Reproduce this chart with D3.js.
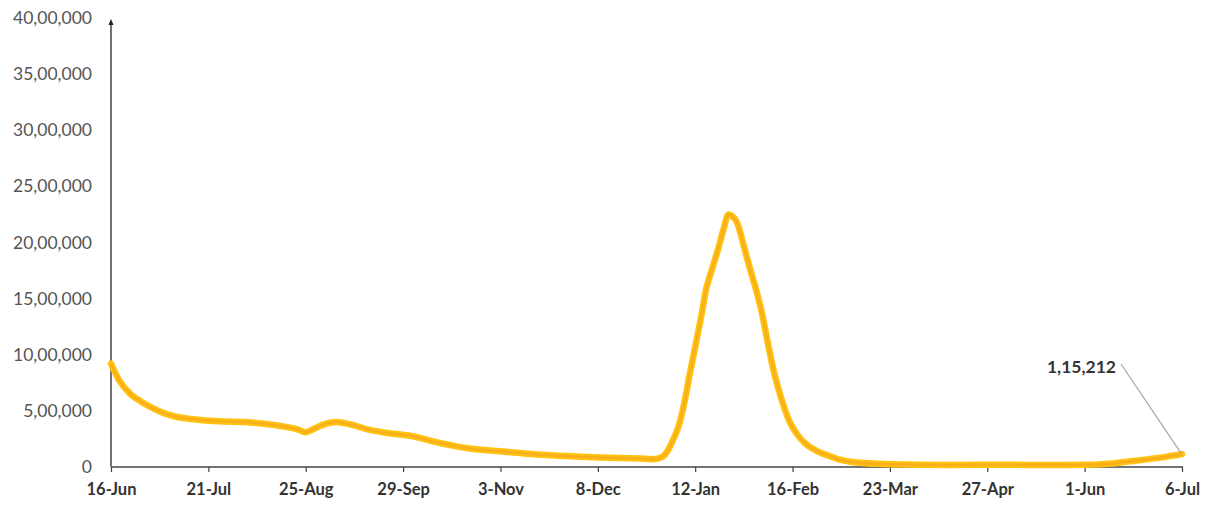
<!DOCTYPE html>
<html><head><meta charset="utf-8">
<script src="https://cdn.jsdelivr.net/npm/d3@7"></script>
<style>
body{margin:0;background:#fff;}
svg{display:block;font-family:Lato,"Open Sans",sans-serif;}
</style></head>
<body><svg id="c" width="1213" height="509"></svg>
<script>
const dates = ["2021-06-16","2021-06-19","2021-06-23","2021-06-27","2021-07-01","2021-07-05","2021-07-09","2021-07-14","2021-07-20","2021-07-27","2021-08-03","2021-08-10","2021-08-16","2021-08-22","2021-08-25","2021-08-28","2021-08-31","2021-09-05","2021-09-10","2021-09-17","2021-09-24","2021-10-01","2021-10-12","2021-10-23","2021-11-03","2021-11-14","2021-11-24","2021-12-09","2021-12-23","2021-12-28","2021-12-31","2022-01-02","2022-01-04","2022-01-06","2022-01-08","2022-01-10","2022-01-12","2022-01-14","2022-01-16","2022-01-18","2022-01-20","2022-01-22","2022-01-24","2022-01-25","2022-01-27","2022-01-30","2022-02-01","2022-02-03","2022-02-05","2022-02-07","2022-02-09","2022-02-11","2022-02-13","2022-02-15","2022-02-18","2022-02-21","2022-02-25","2022-03-01","2022-03-05","2022-03-10","2022-03-23","2022-04-14","2022-05-02","2022-05-20","2022-06-01","2022-06-10","2022-06-17","2022-06-24","2022-06-30","2022-07-06"];
const activeCases = [920000,770000,650000,580000,525000,480000,450000,430000,415000,405000,400000,385000,365000,335000,310000,340000,375000,400000,380000,330000,300000,280000,215000,165000,140000,115000,100000,85000,75000,70000,88000,140000,240000,360000,560000,820000,1070000,1320000,1590000,1760000,1920000,2100000,2250000,2240000,2180000,1920000,1740000,1570000,1370000,1120000,880000,690000,530000,400000,280000,200000,140000,100000,65000,42000,25000,18000,20000,17000,20000,30000,50000,70000,90000,115212];
const tickDates = ["2021-06-16","2021-07-21","2021-08-25","2021-09-29","2021-11-03","2021-12-08","2022-01-12","2022-02-16","2022-03-23","2022-04-27","2022-06-01","2022-07-06"];
const tickLabels = ["16-Jun","21-Jul","25-Aug","29-Sep","3-Nov","8-Dec","12-Jan","16-Feb","23-Mar","27-Apr","1-Jun","6-Jul"];
const yTicks = [0,500000,1000000,1500000,2000000,2500000,3000000,3500000,4000000];
const yTickLabels = ["0","5,00,000","10,00,000","15,00,000","20,00,000","25,00,000","30,00,000","35,00,000","40,00,000"];
const calloutLabel = "1,15,212";

const parse = d3.utcParse("%Y-%m-%d");
const data = dates.map((d,i)=>({date:parse(d), v:activeCases[i]}));
const svg = d3.select("#c");
const x = d3.scaleUtc().domain([parse(dates[0]), parse(dates[dates.length-1])]).range([111,1182]);
const y = d3.scaleLinear().domain([0,4000000]).range([467,18]);

// y axis labels
const yAxis = d3.axisLeft(y).tickValues(yTicks).tickSize(0).tickPadding(19)
  .tickFormat((d,i)=>yTickLabels[i]);
const gy = svg.append("g").attr("transform","translate(111,0)").call(yAxis);
gy.select(".domain").remove();
gy.selectAll("text").attr("fill","#555").style("font-size","17.5px").style("font-family","Lato,sans-serif");

// y axis line with arrow
svg.append("line").attr("x1",111).attr("x2",111).attr("y1",y(0)).attr("y2",22)
  .attr("stroke","#737373").attr("stroke-width",2);
svg.append("path").attr("d","M108.5,25 L111,19 L113.5,25 Z").attr("fill","#222");

// x axis
const tickVals = tickDates.map(parse);
const xAxis = d3.axisBottom(x).tickValues(tickVals).tickSize(5).tickPadding(11)
  .tickFormat((d,i)=>tickLabels[i]);
const gx = svg.append("g").attr("transform",`translate(0,${y(0)})`).call(xAxis);
gx.select(".domain").attr("stroke","#737373").attr("stroke-width",2).attr("d","M111,0H1183");
gx.selectAll(".tick line").attr("stroke","#444").attr("stroke-width",1.2);
gx.selectAll("text").attr("fill","#333").style("font-size","16.5px").style("font-weight","bold").style("font-family","Lato,sans-serif");

// series line
const line = d3.line().x(d=>x(d.date)).y(d=>y(d.v)).curve(d3.curveMonotoneX);
svg.append("path").datum(data).attr("d",line).attr("fill","none")
  .attr("stroke","#FFC20E").attr("stroke-width",6.5).attr("stroke-linejoin","round").attr("stroke-linecap","round");
svg.append("path").datum(data).attr("d",line).attr("fill","none")
  .attr("stroke","#F5A623").attr("stroke-width",2.5).attr("stroke-linejoin","round").attr("opacity",0.7);

// callout
const last = data[data.length-1];
const lx = x(last.date), ly = y(last.v);
svg.append("line").attr("x1",1121).attr("y1",364).attr("x2",lx-1).attr("y2",ly-1)
  .attr("stroke","#a6a6a6").attr("stroke-width",1.2);
svg.append("text").attr("x",1116).attr("y",373).attr("text-anchor","end")
  .attr("fill","#333").style("font-size","17.5px").style("font-weight","bold").text(calloutLabel);
</script></body></html>
